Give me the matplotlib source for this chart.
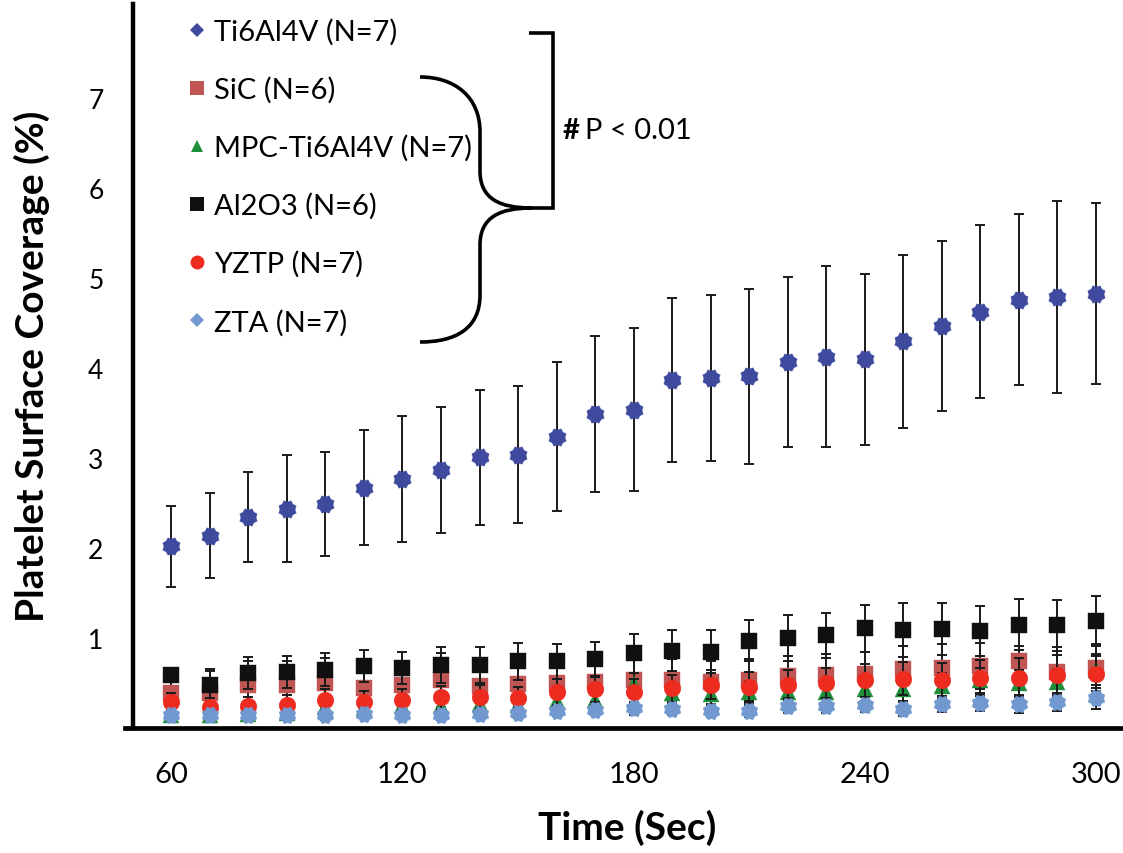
import numpy as np
import matplotlib
matplotlib.use("Agg")
import matplotlib.pyplot as plt
from matplotlib import font_manager
from matplotlib.path import Path
from matplotlib.patches import PathPatch
from matplotlib.lines import Line2D

# ---------------- data ----------------
time_s = [60, 70, 80, 90, 100, 110, 120, 130, 140, 150, 160, 170, 180,
          190, 200, 210, 220, 230, 240, 250, 260, 270, 280, 290, 300]

ti_mean = [2.02, 2.14, 2.35, 2.44, 2.49, 2.67, 2.77, 2.87, 3.01, 3.04, 3.24, 3.49, 3.54,
           3.87, 3.89, 3.91, 4.07, 4.13, 4.10, 4.30, 4.47, 4.63, 4.76, 4.79, 4.83]
ti_sd = [0.45, 0.47, 0.50, 0.59, 0.58, 0.64, 0.70, 0.70, 0.75, 0.76, 0.83, 0.87, 0.91,
         0.91, 0.92, 0.97, 0.95, 1.01, 0.95, 0.96, 0.94, 0.96, 0.95, 1.07, 1.01]

sic_mean = [0.39, 0.39, 0.48, 0.48, 0.50, 0.45, 0.48, 0.53, 0.47, 0.49, 0.50, 0.51, 0.53,
            0.53, 0.51, 0.53, 0.58, 0.59, 0.60, 0.66, 0.67, 0.69, 0.75, 0.62, 0.67]
sic_sd = [0.20, 0.24, 0.27, 0.27, 0.28, 0.25, 0.25, 0.30, 0.28, 0.28, 0.26, 0.26, 0.25,
          0.24, 0.24, 0.24, 0.22, 0.23, 0.24, 0.25, 0.26, 0.26, 0.16, 0.28, 0.26]

mpc_mean = [0.15, 0.15, 0.16, 0.17, 0.23, 0.22, 0.24, 0.25, 0.27, 0.26, 0.30, 0.31, 0.49,
            0.39, 0.38, 0.40, 0.40, 0.40, 0.43, 0.43, 0.47, 0.53, 0.50, 0.51, 0.64]
mpc_sd = [0.06, 0.06, 0.07, 0.07, 0.08, 0.08, 0.08, 0.09, 0.09, 0.09, 0.10, 0.10, 0.12,
          0.11, 0.11, 0.12, 0.12, 0.12, 0.13, 0.13, 0.14, 0.14, 0.15, 0.15, 0.16]

al_mean = [0.59, 0.48, 0.61, 0.62, 0.65, 0.69, 0.67, 0.70, 0.70, 0.74, 0.74, 0.77, 0.83,
           0.86, 0.85, 0.97, 1.00, 1.03, 1.11, 1.09, 1.10, 1.08, 1.15, 1.14, 1.19]
al_sd = [0.04, 0.18, 0.18, 0.18, 0.18, 0.18, 0.18, 0.20, 0.20, 0.21, 0.19, 0.19, 0.22,
         0.23, 0.24, 0.23, 0.26, 0.25, 0.26, 0.30, 0.29, 0.28, 0.28, 0.28, 0.28]

yztp_mean = [0.29, 0.23, 0.25, 0.26, 0.31, 0.29, 0.31, 0.34, 0.35, 0.33, 0.40, 0.43, 0.40,
             0.44, 0.48, 0.46, 0.48, 0.50, 0.53, 0.55, 0.53, 0.56, 0.56, 0.59, 0.60]
yztp_sd = [0.10, 0.10, 0.10, 0.11, 0.12, 0.12, 0.12, 0.13, 0.13, 0.13, 0.14, 0.14, 0.15,
           0.15, 0.16, 0.16, 0.17, 0.17, 0.18, 0.18, 0.19, 0.20, 0.22, 0.22, 0.22]

zta_mean = [0.14, 0.14, 0.14, 0.14, 0.14, 0.16, 0.15, 0.14, 0.16, 0.17, 0.19, 0.20, 0.22,
            0.21, 0.19, 0.19, 0.25, 0.25, 0.26, 0.21, 0.27, 0.28, 0.27, 0.29, 0.33]
zta_sd = [0.04, 0.04, 0.04, 0.04, 0.05, 0.05, 0.05, 0.05, 0.05, 0.06, 0.06, 0.06, 0.07,
          0.07, 0.07, 0.07, 0.08, 0.08, 0.08, 0.08, 0.09, 0.09, 0.10, 0.10, 0.12]

labels = ["Ti6Al4V (N=7)", "SiC (N=6)", "MPC-Ti6Al4V (N=7)", "Al2O3 (N=6)",
          "YZTP (N=7)", "ZTA (N=7)"]
x_ticks = [60, 120, 180, 240, 300]
y_ticks = [1, 2, 3, 4, 5, 6, 7]

# ---------------- fonts ----------------
avail = {f.name for f in font_manager.fontManager.ttflist}
narrow = "Liberation Sans Narrow" if "Liberation Sans Narrow" in avail else "Lato"
base = "Lato" if "Lato" in avail else "DejaVu Sans"

# ---------------- figure ----------------
W, H = 1123, 854
fig = plt.figure(figsize=(W / 100, H / 100), dpi=100)


def fx(px):
    return px / W


def fy(py):
    return 1 - py / H


ax = fig.add_axes([fx(125), fy(729), 1 - fx(125), fy(5) - fy(729)])
ax.set_xlim(48, 307)
ax.set_ylim(0, 8.05)

# octagram marker (snowflake-like look of the diamonds + error bars)
ang = np.linspace(0, 2 * np.pi, 17)[:-1] + np.pi / 8
rad = np.where(np.arange(16) % 2 == 0, 1.0, 0.80)
verts = np.column_stack([rad * np.cos(ang), rad * np.sin(ang)])
verts = np.vstack([verts, verts[:1]])
octa = Path(verts, closed=True)

series = [
    (ti_mean, ti_sd, octa, "#3F4A9E", 12.5),
    (sic_mean, sic_sd, "s", "#BF5654", 11.3),
    (mpc_mean, mpc_sd, "^", "#1F8E3A", 11.3),
    (al_mean, al_sd, "s", "#101010", 11.3),
    (yztp_mean, yztp_sd, "o", "#EE2B1F", 12.0),
    (zta_mean, zta_sd, octa, "#7298D0", 12.0),
]
for i, (m, s, mk, col, ms) in enumerate(series):
    ax.errorbar(time_s, m, yerr=s, fmt="none", ecolor="#1a1a1a", elinewidth=1.4,
                capsize=3.8, capthick=1.4, zorder=2.9 + i)
    ax.plot(time_s, m, linestyle="none", marker=mk, ms=ms, color=col, mec=col,
            mew=0.3, zorder=3 + i)

# axes styling
for side in ["top", "right"]:
    ax.spines[side].set_visible(False)
ax.spines["left"].set_linewidth(3.2)
ax.spines["bottom"].set_linewidth(3.4)
ax.spines["left"].set_position(("data", 50))
ax.set_xticks(x_ticks)
ax.set_yticks(y_ticks)
ax.set_xticklabels([str(v) for v in x_ticks], fontsize=21, family=narrow)
ax.set_yticklabels([str(v) for v in y_ticks], fontsize=19, family=base)
ax.tick_params(axis="x", length=0, pad=24)
ax.tick_params(axis="y", length=0, pad=21)

ax.set_xlabel("Time (Sec)", fontsize=28, fontweight="bold", family=narrow, va="center")
ax.xaxis.set_label_coords(fx(627), fy(828), transform=fig.transFigure)
ax.set_ylabel("Platelet Surface Coverage (%)", fontsize=28, fontweight="bold",
              family=narrow, va="center")
ax.yaxis.set_label_coords(fx(32), fy(366), transform=fig.transFigure)

# legend
leg_markers = ["D", "s", "^", "s", "o", "D"]
leg_sizes = [7.5, 9.5, 9, 9.5, 10, 7.5]
handles = [Line2D([], [], ls="none", marker=lm, ms=ls_, color=s[3], mew=0)
           for lm, ls_, s in zip(leg_markers, leg_sizes, series)]
leg = ax.legend(handles, labels, loc="upper left",
                bbox_to_anchor=(fx(188), fy(19)), bbox_transform=fig.transFigure,
                frameon=False, prop={"family": base, "size": 21},
                handlelength=0.65, handletextpad=0.25, labelspacing=1.07,
                borderpad=0, borderaxespad=0)


# braces
def pth(pts, codes):
    return Path([(fx(a), fy(b)) for a, b in pts], codes)


C4, MT, LT = Path.CURVE4, Path.MOVETO, Path.LINETO
brace_pts = [(420, 78), (455, 78), (480, 98), (480, 133), (480, 172),
             (480, 200), (500, 209), (532, 209),
             (500, 209), (480, 218), (480, 246), (480, 296),
             (480, 330), (455, 343), (420, 343)]
brace_codes = [MT, C4, C4, C4, LT, C4, C4, C4, C4, C4, C4, LT, C4, C4, C4]
fig.patches.append(PathPatch(pth(brace_pts, brace_codes), fill=False, lw=2.6,
                             ec="black", transform=fig.transFigure))
bracket_pts = [(529, 34), (553, 34), (553, 209), (528, 209)]
fig.patches.append(PathPatch(pth(bracket_pts, [MT, LT, LT, LT]), fill=False, lw=2.6,
                             ec="black", transform=fig.transFigure, joinstyle="miter"))

fig.text(fx(563), fy(131), "#", fontsize=21, fontweight="bold", family=base,
         va="center", ha="left")
fig.text(fx(585), fy(131), "P < 0.01", fontsize=21, family=base,
         va="center", ha="left")

fig.savefig("out.png", dpi=100)
